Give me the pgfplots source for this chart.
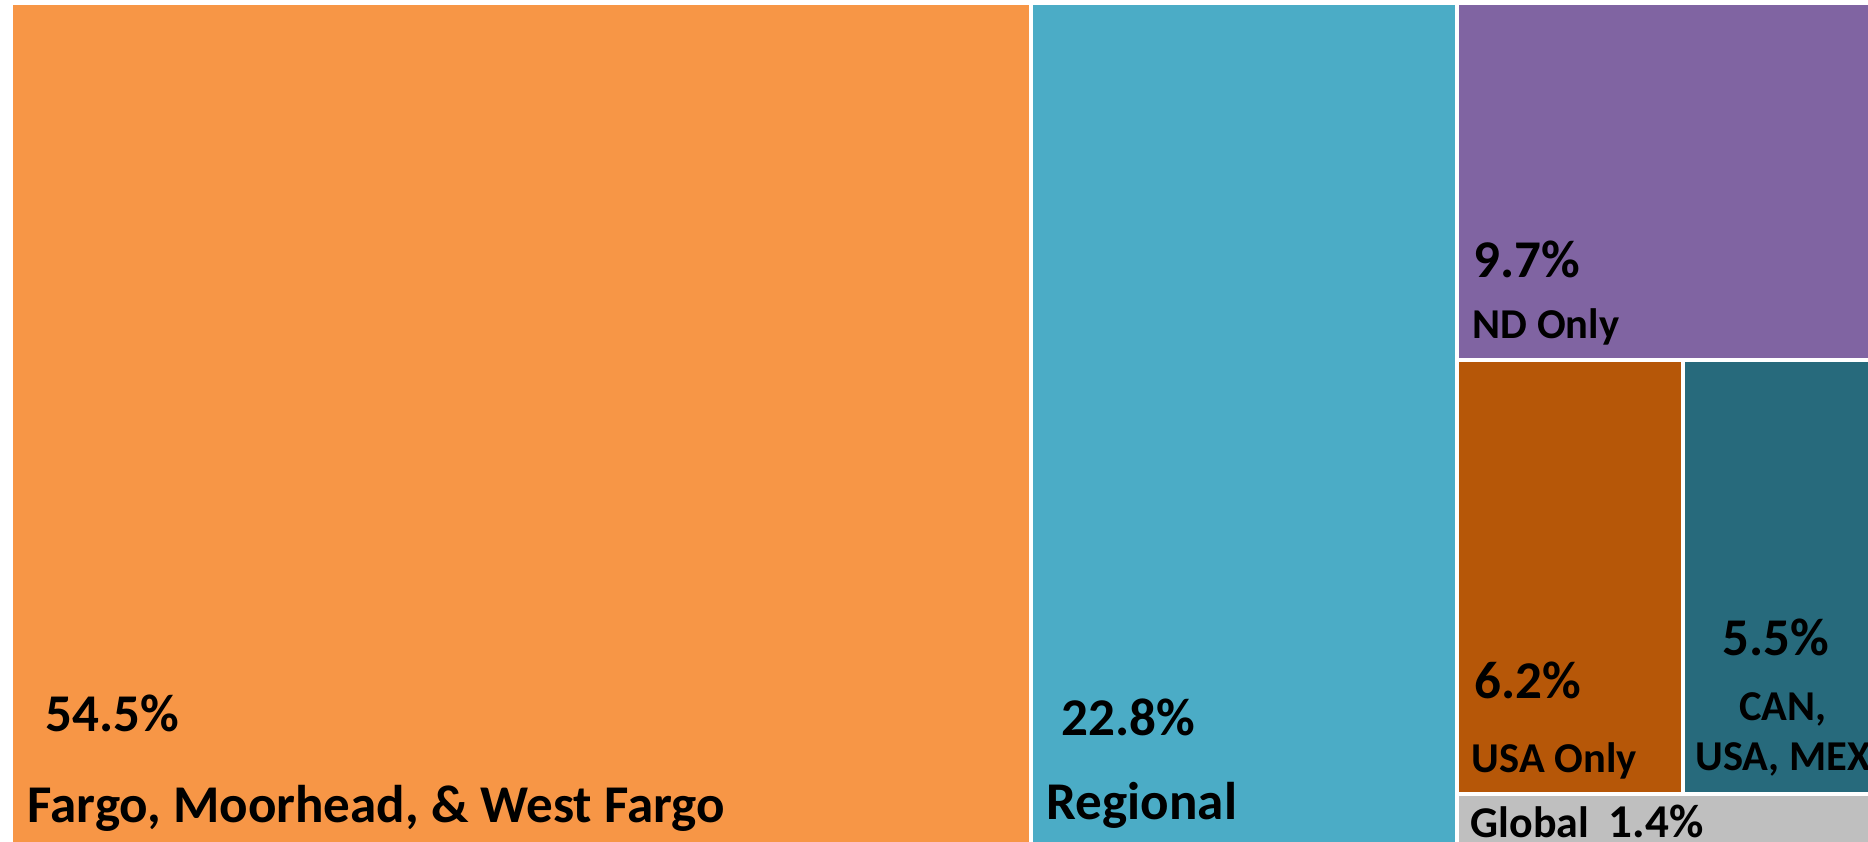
\documentclass[border=0pt]{standalone}
\usepackage{pgfplots}
\pgfplotsset{compat=1.18}
\usepackage{fontspec}
\setmainfont{Carlito}
\definecolor{cFargo}{HTML}{F79646}
\definecolor{cReg}{HTML}{4BACC6}
\definecolor{cND}{HTML}{8064A2}
\definecolor{cUSA}{HTML}{B65708}
\definecolor{cCAN}{HTML}{276A7C}
\definecolor{cGlob}{HTML}{BFBFBF}
\newcommand{\bigtxt}{\fontsize{15.1}{18}\selectfont\bfseries}
\newcommand{\midtxt}{\fontsize{12.1}{14}\selectfont\bfseries}
\begin{document}
\begin{tikzpicture}
\begin{axis}[
  width=18.68cm, height=8.41cm, scale only axis,
  xmin=0, xmax=1868, ymin=0, ymax=841, y dir=reverse,
  hide axis, clip=true,
]
% treemap tiles (shares: 54.5, 22.8, 9.7, 6.2, 5.5, 1.4 %)
\addplot[fill=cFargo, draw=none] coordinates {(13,5) (1029,5) (1029,870) (13,870)} -- cycle;
\addplot[fill=cReg, draw=none] coordinates {(1033,5) (1455,5) (1455,870) (1033,870)} -- cycle;
\addplot[fill=cND, draw=none] coordinates {(1459,5) (1890,5) (1890,358) (1459,358)} -- cycle;
\addplot[fill=cUSA, draw=none] coordinates {(1459,362) (1681,362) (1681,792) (1459,792)} -- cycle;
\addplot[fill=cCAN, draw=none] coordinates {(1685,362) (1890,362) (1890,792) (1685,792)} -- cycle;
\addplot[fill=cGlob, draw=none] coordinates {(1459,796) (1890,796) (1890,870) (1459,870)} -- cycle;

\node[anchor=base west, inner sep=0pt] at (axis cs:45,731) {\bigtxt 54.5\%};
\node[anchor=base west, inner sep=0pt] at (axis cs:27,822) {\bigtxt Fargo, Moorhead, \& West Fargo};
\node[anchor=base west, inner sep=0pt] at (axis cs:1061,735) {\bigtxt 22.8\%};
\node[anchor=base west, inner sep=0pt] at (axis cs:1046,819) {\bigtxt Regional};
\node[anchor=base west, inner sep=0pt] at (axis cs:1473,277) {\bigtxt 9.7\%};
\node[anchor=base west, inner sep=0pt] at (axis cs:1472,338) {\midtxt ND Only};
\node[anchor=base west, inner sep=0pt] at (axis cs:1474,698) {\bigtxt 6.2\%};
\node[anchor=base west, inner sep=0pt] at (axis cs:1471,772) {\midtxt USA Only};
\node[anchor=base, inner sep=0pt] at (axis cs:1776,655) {\bigtxt 5.5\%};
\node[anchor=base, inner sep=0pt] at (axis cs:1783,720) {\midtxt CAN,};
\node[anchor=base, inner sep=0pt] at (axis cs:1783,770) {\midtxt USA, MEX};
\node[anchor=base west, inner sep=0pt] at (axis cs:1470,837) {\fontsize{12.5}{15}\selectfont\bfseries Global};
\node[anchor=base west, inner sep=0pt] at (axis cs:1608,837) {\fontsize{13.4}{16}\selectfont\bfseries 1.4\%};
\end{axis}
\pgfresetboundingbox
\useasboundingbox (current axis.south west) rectangle (current axis.north east);
\end{tikzpicture}
\end{document}
